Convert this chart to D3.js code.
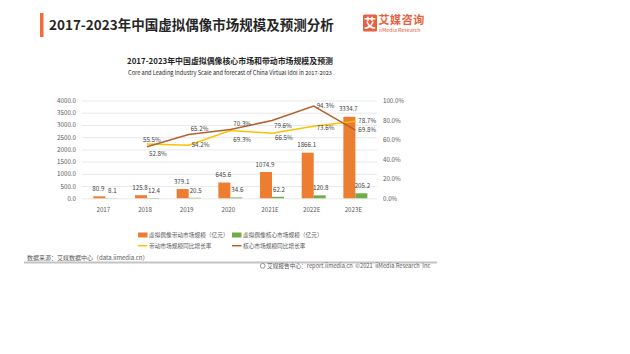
<!DOCTYPE html>
<html>
<head>
<meta charset="utf-8">
<script src="https://cdn.jsdelivr.net/npm/d3@7"></script>
<style>
	body { margin: 0; background: #fff; }
	svg { display: block; font-family: "Noto Sans CJK SC", "Noto Sans", sans-serif; }
</style>
</head>
<body>
<div id="chart"></div>
<script>
const WIDTH = 630
const HEIGHT = 354

// chart values
var years = ["2017", "2018", "2019", "2020", "2021E", "2022E", "2023E"]
var leadMarket = [80.9, 125.8, 379.1, 645.6, 1074.9, 1866.1, 3334.7]
var coreMarket = [8.1, 12.4, 20.5, 34.6, 62.2, 120.8, 205.2]
// growth rates start from 2018
var growthYears = ["2018", "2019", "2020", "2021E", "2022E", "2023E"]
var leadGrowth = [0.555, 0.542, 0.693, 0.665, 0.736, 0.787]
var coreGrowth = [0.528, 0.652, 0.703, 0.796, 0.943, 0.698]
var leftTicks = [0, 500, 1000, 1500, 2000, 2500, 3000, 3500, 4000]
var rightTicks = [0, 0.2, 0.4, 0.6, 0.8, 1.0]

// where each rate label sits relative to its point
var leadLabelDx = [-4, 3, 3, 3, 3, 3]
var leadLabelDy = [-4, 0, 9, 5, 2, 0]
var coreLabelDx = [2, 2, 3, 2, 3, 3]
var coreLabelDy = [7, -6, -6, 6, 0, 0]

var colors = {
	lead: "#ed7d31",
	core: "#70ad47",
	leadLine: "#ffc000",
	coreLine: "#b5602f",
	text: "#595959",
	grid: "#e3e3e3"
}

var svg = d3.select("#chart")
	.append("svg")
	.attr("width", WIDTH)
	.attr("height", HEIGHT)

// page header
svg.append("rect")
	.attr("x", 40).attr("y", 13)
	.attr("width", 3.5).attr("height", 24)
	.style("fill", "#f26b3a")

svg.append("text")
	.attr("x", 49).attr("y", 29.5)
	.style("font-size", "13.5px")
	.style("font-weight", "bold")
	.style("fill", "#262626")
	.text("2017-2023年中国虚拟偶像市场规模及预测分析")

// logo
svg.append("rect")
	.attr("x", 363).attr("y", 14.5)
	.attr("width", 14).attr("height", 17)
	.attr("rx", 1.5)
	.style("fill", "#e8603c")
svg.append("text")
	.attr("x", 370).attr("y", 27.5)
	.style("text-anchor", "middle")
	.style("font-size", "12px")
	.style("font-weight", "bold")
	.style("fill", "#fff")
	.text("艾")
svg.append("text")
	.attr("x", 378.5).attr("y", 24)
	.style("font-size", "11px")
	.style("font-weight", "bold")
	.style("letter-spacing", "0.6px")
	.style("fill", "#e8603c")
	.text("艾媒咨询")
svg.append("text")
	.attr("x", 379).attr("y", 32.2)
	.style("font-size", "5.3px")
	.style("fill", "#e8603c")
	.text("iiMedia Research")

// chart titles
svg.append("text")
	.attr("x", 230).attr("y", 64)
	.style("text-anchor", "middle")
	.style("font-size", "7.9px")
	.style("font-weight", "bold")
	.style("fill", "#262626")
	.text("2017-2023年中国虚拟偶像核心市场和带动市场规模及预测")
svg.append("text")
	.attr("x", 230).attr("y", 74.5)
	.style("text-anchor", "middle")
	.style("font-size", "5.6px")
	.style("fill", "#262626")
	.text("Core and Leading Industry Scale and forecast of China Virtual Idol in 2017-2023")

// scales
var x = d3.scaleBand()
	.domain(years)
	.range([84.5, 376.2])

var y = d3.scaleLinear()
	.domain([0, 4000])
	.range([198.3, 100.5])

var yRate = d3.scaleLinear()
	.domain([0, 1])
	.range([198.3, 100.5])

var barW = 12

// gridlines + left axis
var leftAxis = svg.append("g")
	.attr("transform", "translate(82,0)")
	.call(d3.axisLeft(y).tickValues(leftTicks).tickFormat(d3.format(".1f")).tickSize(-295).tickPadding(6))
leftAxis.select(".domain").remove()
leftAxis.selectAll("line").style("stroke", colors.grid).style("stroke-width", 0.8)
leftAxis.selectAll("text")
	.style("font-size", "6.2px")
	.style("fill", colors.text)
	.style("font-family", "'Noto Sans CJK SC', sans-serif")

// right axis
var rightAxis = svg.append("g")
	.attr("transform", "translate(377,0)")
	.call(d3.axisRight(yRate).tickValues(rightTicks).tickFormat(d3.format(".1%")).tickSize(0).tickPadding(6))
rightAxis.select(".domain").remove()
rightAxis.selectAll("text")
	.style("font-size", "6.2px")
	.style("fill", colors.text)
	.style("font-family", "'Noto Sans CJK SC', sans-serif")

// bottom labels
var bottomAxis = svg.append("g")
	.attr("transform", "translate(-2,198.3)")
	.call(d3.axisBottom(x).tickSize(0).tickPadding(9))
bottomAxis.select(".domain").remove()
bottomAxis.selectAll("text")
	.style("font-size", "6.2px")
	.style("fill", colors.text)
	.style("font-family", "'Noto Sans CJK SC', sans-serif")

function cx(d) { return x(d) + x.bandwidth() / 2 }

// bars
svg.selectAll(".lead-bar")
	.data(years)
	.enter()
	.append("rect")
	.attr("x", function(d) { return cx(d) - barW })
	.attr("y", function(d, i) { return y(leadMarket[i]) })
	.attr("width", barW)
	.attr("height", function(d, i) { return y(0) - y(leadMarket[i]) })
	.style("fill", colors.lead)

svg.selectAll(".core-bar")
	.data(years)
	.enter()
	.append("rect")
	.attr("x", function(d) { return cx(d) })
	.attr("y", function(d, i) { return y(coreMarket[i]) })
	.attr("width", barW)
	.attr("height", function(d, i) { return y(0) - y(coreMarket[i]) })
	.style("fill", colors.core)

// bar labels
svg.selectAll(".lead-label")
	.data(years)
	.enter()
	.append("text")
	.attr("x", function(d) { return cx(d) - barW / 2 - 1 })
	.attr("y", function(d, i) { return y(leadMarket[i]) - 5.5 })
	.style("text-anchor", "middle")
	.style("font-size", "6.2px")
	.style("fill", "#404040")
	.text(function(d, i) { return leadMarket[i].toFixed(1) })

svg.selectAll(".core-label")
	.data(years)
	.enter()
	.append("text")
	.attr("x", function(d) { return cx(d) + barW / 2 + 1 })
	.attr("y", function(d, i) { return y(coreMarket[i]) - 5 })
	.style("text-anchor", "middle")
	.style("font-size", "6.2px")
	.style("fill", "#404040")
	.text(function(d, i) { return coreMarket[i].toFixed(1) })

// growth lines
function drawRate(values, color, dxs, dys) {
	var line = d3.line()
		.x(function(d, i) { return cx(growthYears[i]) })
		.y(function(d) { return yRate(d) })

	svg.append("path")
		.datum(values)
		.attr("d", line)
		.style("fill", "none")
		.style("stroke", color)
		.style("stroke-width", 1.5)

	svg.selectAll(null)
		.data(values)
		.enter()
		.append("text")
		.attr("x", function(d, i) { return cx(growthYears[i]) + dxs[i] })
		.attr("y", function(d, i) { return yRate(d) + dys[i] + 2 })
		.style("font-size", "6.2px")
		.style("fill", "#404040")
		.text(function(d) { return d3.format(".1%")(d) })
}

drawRate(leadGrowth, colors.leadLine, leadLabelDx, leadLabelDy)
drawRate(coreGrowth, colors.coreLine, coreLabelDx, coreLabelDy)

// legend
var legendItems = [
	{ label: "虚拟偶像带动市场规模（亿元）", color: colors.lead, kind: "box", lx: 138, ly: 235 },
	{ label: "虚拟偶像核心市场规模（亿元）", color: colors.core, kind: "box", lx: 232, ly: 235 },
	{ label: "带动市场规模同比增长率", color: colors.leadLine, kind: "line", lx: 138, ly: 245.7 },
	{ label: "核心市场规模同比增长率", color: colors.coreLine, kind: "line", lx: 232, ly: 245.7 }
]

legendItems.forEach(function(item) {
	if (item.kind == "box") {
		svg.append("rect")
			.attr("x", item.lx).attr("y", item.ly - 2.5)
			.attr("width", 9.5).attr("height", 5)
			.style("fill", item.color)
	} else {
		svg.append("line")
			.attr("x1", item.lx).attr("x2", item.lx + 9.5)
			.attr("y1", item.ly).attr("y2", item.ly)
			.style("stroke", item.color)
			.style("stroke-width", 1.5)
	}
	svg.append("text")
		.attr("x", item.lx + 11)
		.attr("y", item.ly + 2)
		.style("font-size", "5.7px")
		.style("fill", colors.text)
		.text(item.label)
})

// source + footer
svg.append("text")
	.attr("x", 27).attr("y", 260.3)
	.style("font-size", "6px")
	.style("fill", colors.text)
	.text("数据来源：艾媒数据中心（data.iimedia.cn）")

svg.append("line")
	.attr("x1", 24).attr("x2", 437)
	.attr("y1", 262.5).attr("y2", 262.5)
	.style("stroke", "#c4c4c4")
	.style("stroke-width", 1.8)

svg.append("circle")
	.attr("cx", 262.7).attr("cy", 265.8)
	.attr("r", 2.4)
	.style("fill", "none")
	.style("stroke", "#8a8a8a")
	.style("stroke-width", 0.9)

svg.append("text")
	.attr("x", 267).attr("y", 267.8)
	.style("font-size", "5.7px")
	.style("fill", colors.text)
	.style("white-space", "pre")
	.text("艾媒报告中心：report.iimedia.cn  ©2021  iiMedia Research  Inc")
</script>
</body>
</html>
